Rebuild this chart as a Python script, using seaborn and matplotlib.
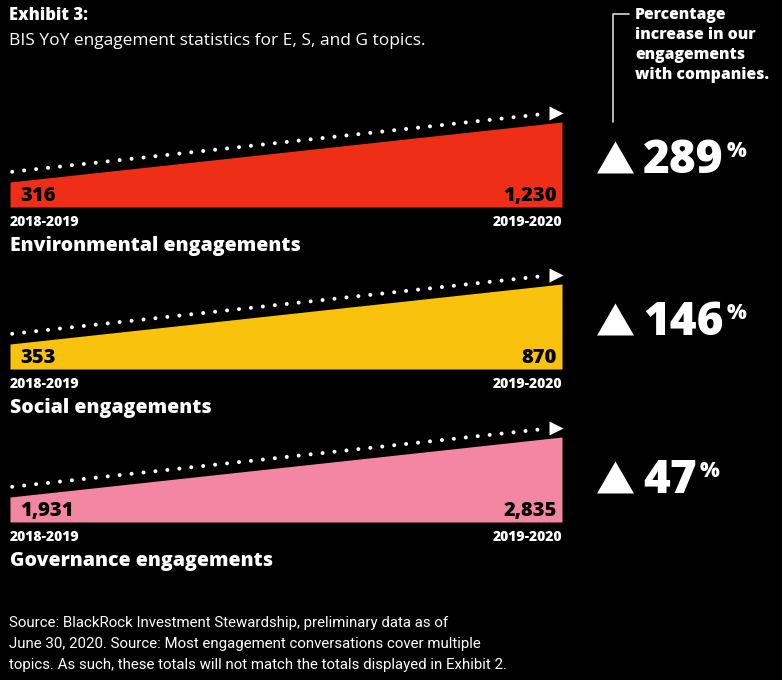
import numpy as np
import pandas as pd
import matplotlib.pyplot as plt
import seaborn as sns
from matplotlib.transforms import offset_copy

periods = ["2018-2019", "2019-2020"]
topics = ["Environmental engagements", "Social engagements", "Governance engagements"]
start_counts = [316, 353, 1931]
end_counts = [1230, 870, 2835]
pct_increase = [289, 146, 47]
colors = ["#EF2E17", "#F8C20D", "#F386A2"]

footer = [
    "Source: BlackRock Investment Stewardship, preliminary data as of",
    "June 30, 2020. Source: Most engagement conversations cover multiple",
    "topics. As such, these totals will not match the totals displayed in Exhibit 2.",
]
callout = ["Percentage", "increase in our", "engagements", "with companies."]

W, H = 782, 680
sns.set_theme(style="white")
plt.rcParams["font.family"] = ["Roboto", "DejaVu Sans"]
HEAVY = dict(family=["Open Sans", "DejaVu Sans"], fontweight=800)

fig = plt.figure(figsize=(W / 100, H / 100), dpi=100, facecolor="black")

# layout in pixels
LEFT, RIGHT = 10, 562
WEDGE_H = 85
SHAPE = 25 / 85  # left edge height as share of right edge height
panel_bottoms = [207, 369, 522]
pct_baselines = [173, 335, 493]

for topic, v0, v1, color, yb in zip(topics, start_counts, end_counts, colors, panel_bottoms):
    ax = fig.add_axes([LEFT / W, 1 - yb / H, (RIGHT - LEFT) / W, WEDGE_H / H])
    ax.set_facecolor("none")
    base = (v0 - SHAPE * v1) / (1 - SHAPE)
    df = pd.DataFrame({"pos": [0.0, 1.0], "count": [v0, v1], "period": periods})

    ax.fill_between(df["pos"], base, df["count"], color=color, lw=0)

    # dotted trend line lifted above the wedge, ending in an arrow head
    lift = offset_copy(ax.transData, fig=fig, x=0, y=10, units="dots")
    xs = np.array([0.004, 0.958])
    sns.lineplot(x=xs, y=np.interp(xs, df["pos"], df["count"]), ax=ax,
                 color="white", lw=2.9, linestyle=(0, (0.001, 2.98)),
                 dash_capstyle="round", transform=lift, clip_on=False)
    xa = 0.989
    ax.plot([xa], [np.interp(xa, df["pos"], df["count"])], marker=">", ms=10,
            color="white", mec="none", transform=lift, clip_on=False)

    ax.annotate(f"{v0:,}", xy=(0, base), xytext=(10, 11), textcoords="offset pixels",
                ha="left", va="center", fontsize=14.5, color="black", **HEAVY)
    ax.annotate(f"{v1:,}", xy=(1, base), xytext=(-5, 11), textcoords="offset pixels",
                ha="right", va="center", fontsize=14.5, color="black", **HEAVY)
    ax.annotate(periods[0], xy=(0, base), xytext=(0, -15), textcoords="offset pixels",
                ha="left", va="center", fontsize=10, color="white", **HEAVY)
    ax.annotate(periods[1], xy=(1, base), xytext=(0, -15), textcoords="offset pixels",
                ha="right", va="center", fontsize=10, color="white", **HEAVY)
    ax.annotate(topic, xy=(0, base), xytext=(0, -39), textcoords="offset pixels",
                ha="left", va="center", fontsize=14, color="white", **HEAVY)

    ax.set_xlim(0, 1)
    ax.set_ylim(base, v1)
    ax.axis("off")

# overlay in pixel coordinates for the text furniture
ov = fig.add_axes([0, 0, 1, 1])
ov.set_xlim(0, W)
ov.set_ylim(H, 0)
ov.axis("off")
ov.set_facecolor("none")

ov.text(9, 16, "Exhibit 3:", fontsize=12, color="white", va="center", **HEAVY)
ov.text(9, 41, "BIS YoY engagement statistics for E, S, and G topics.", fontsize=12.5,
        family=["Open Sans", "DejaVu Sans"], color="white", va="center")

for i, line in enumerate(footer):
    ov.text(9, 623 + 21 * i, line, fontsize=10.8, color="white", va="center")

# callout bracket and text
ov.plot([629, 613, 613], [14, 14, 122], color="#d8d8d8", lw=1.2)
for i, line in enumerate(callout):
    ov.text(635, 15 + 20 * i, line, fontsize=11.3, color="white", va="center", **HEAVY)

tri = [(-1, -0.866), (1, -0.866), (0, 0.866)]
for pct, yb in zip(pct_increase, pct_baselines):
    ov.plot([614.5], [yb - 16], marker=tri, ms=26.6, color="white", mec="none")
    t = ov.text(643, yb, f"{pct}", fontsize=33, color="white",
                va="baseline", ha="left", **HEAVY)
    ov.annotate("%", xy=(1, yb - 16), xycoords=(t, "data"), xytext=(3, 0),
                textcoords="offset pixels", ha="left", va="baseline",
                fontsize=15, color="white", **HEAVY)

fig.savefig("out.png", dpi=100, facecolor="black")
